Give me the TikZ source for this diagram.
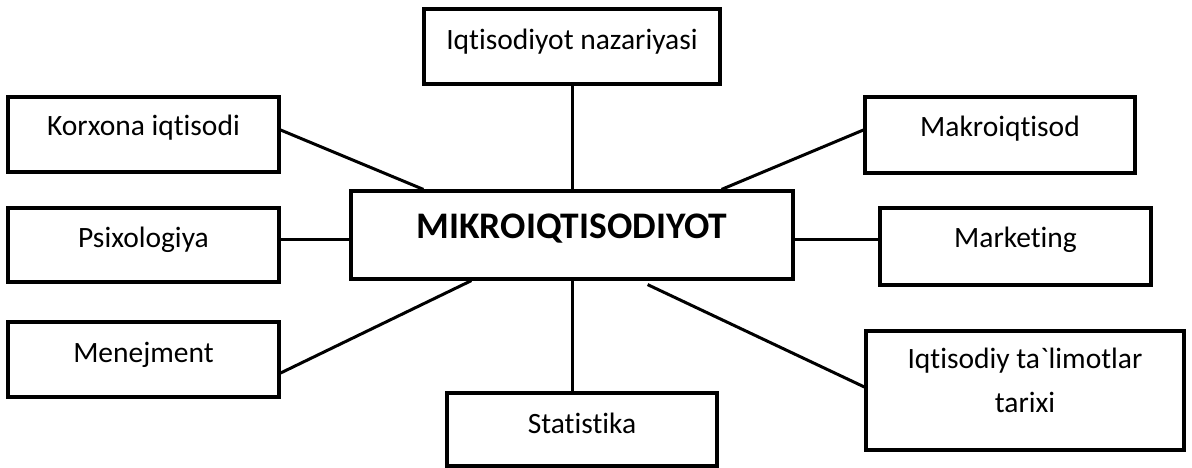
\documentclass[tikz,border=0pt]{standalone}
\usepackage{fontspec}
\setmainfont{Carlito}[Ligatures={TeXOff,NoCommon}]
\usetikzlibrary{calc}

\begin{document}
\begin{tikzpicture}[
  x=1pt, y=-1pt,
  box/.style={draw=black, line width=3.2pt, inner sep=0pt},
  lbl/.style={font=\fontsize{29.5}{44}\selectfont, anchor=base, align=center},
  mainlbl/.style={font=\fontsize{37.5}{40}\selectfont\bfseries, anchor=base},
  link/.style={line width=3pt, color=black},
]
  \useasboundingbox (0,0) rectangle (1192,468);

  % Centre box
  \node[box, minimum width=442, minimum height=88] (main) at (572,235) {};
  \node[mainlbl] at (572,238) {MIKROIQTISODIYOT};

  % Top and bottom
  \node[box, minimum width=296, minimum height=75] (naz) at (572,46.5) {};
  \node[lbl] at (572,50) {Iqtisodiyot nazariyasi};
  \node[box, minimum width=270, minimum height=73] (sta) at (582,429.5) {};
  \node[lbl] at (582,433) {Statistika};

  % Left column
  \node[box, minimum width=271, minimum height=75] (kor) at (143.5,134.5) {};
  \node[lbl] at (143.5,136) {Korxona iqtisodi};
  \node[box, minimum width=271, minimum height=74] (psi) at (143.5,245) {};
  \node[lbl] at (143.5,247) {Psixologiya};
  \node[box, minimum width=271, minimum height=75] (men) at (143.5,359.5) {};
  \node[lbl] at (143.5,362) {Menejment};

  % Right column
  \node[box, minimum width=270, minimum height=76] (mak) at (1000,135) {};
  \node[lbl] at (1000,137) {Makroiqtisod};
  \node[box, minimum width=271, minimum height=77] (mar) at (1015.5,246.5) {};
  \node[lbl] at (1015.5,247) {Marketing};
  \node[box, minimum width=318, minimum height=119] (tar) at (1025,390.5) {};
  \node[lbl] at (1025,412) {Iqtisodiy ta`limotlar\\tarixi};

  % Links to the centre box
  \draw[link] (naz.south) -- (naz.south |- main.north);
  \draw[link] ($(kor.east)+(0,-4.5)$) -- ($(main.north west)+(74,0)$);
  \draw[link] ($(mak.west)+(0,-5)$) -- ($(main.north east)+(-73,0)$);
  \draw[link] ($(psi.east)+(0,-6)$) -- ($(main.west)+(0,4)$);
  \draw[link] ($(main.east)+(0,4)$) -- ($(mar.west)+(0,-7.5)$);
  \draw[link] ($(men.east)+(0,13.5)$) -- ($(main.south west)+(122,0)$);
  \draw[link] (main.south) -- (main.south |- sta.north);
  \draw[link] ($(main.south east)+(-147,4)$) -- ($(tar.west)+(0,-3.5)$);
\end{tikzpicture}
\end{document}
